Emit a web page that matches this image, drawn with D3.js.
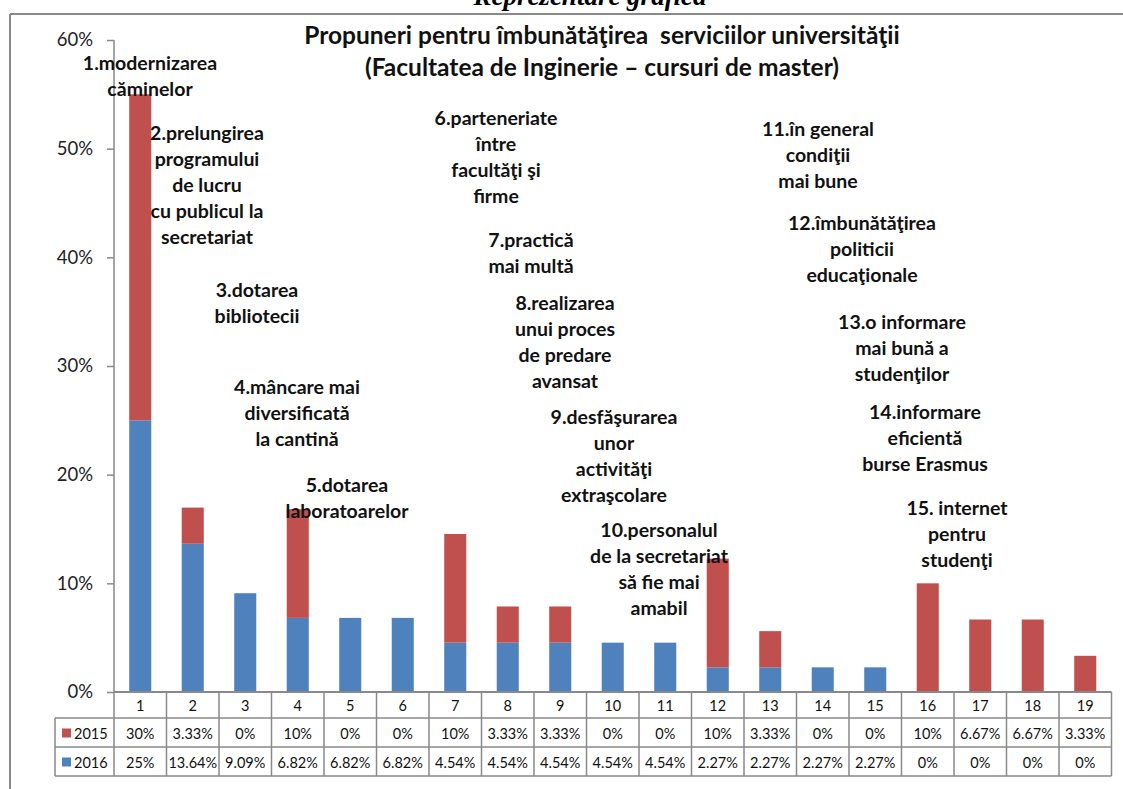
<!DOCTYPE html>
<html><head><meta charset="utf-8">
<script src="https://cdn.jsdelivr.net/npm/d3@7"></script>
<style>
body{margin:0;background:#fff;}
svg{display:block;}
</style></head>
<body>
<svg id="c" width="1123" height="789"></svg>
<script>
const categories = ["1","2","3","4","5","6","7","8","9","10","11","12","13","14","15","16","17","18","19"];
const values2015 = [30,3.33,0,10,0,0,10,3.33,3.33,0,0,10,3.33,0,0,10,6.67,6.67,3.33];
const values2016 = [25,13.64,9.09,6.82,6.82,6.82,4.54,4.54,4.54,4.54,4.54,2.27,2.27,2.27,2.27,0,0,0,0];
const labels2015 = ["30%","3.33%","0%","10%","0%","0%","10%","3.33%","3.33%","0%","0%","10%","3.33%","0%","0%","10%","6.67%","6.67%","3.33%"];
const labels2016 = ["25%","13.64%","9.09%","6.82%","6.82%","6.82%","4.54%","4.54%","4.54%","4.54%","4.54%","2.27%","2.27%","2.27%","2.27%","0%","0%","0%","0%"];
const seriesNames = ["2016","2015"];
const yTicks = [0,10,20,30,40,50,60];
const titleLines = ["Propuneri pentru îmbunătăţirea  serviciilor universităţii","(Facultatea de Inginerie – cursuri de master)"];
const pageHeading = "Reprezentare grafică";
const annotations = [
  ["1.modernizarea","căminelor"],
  ["2.prelungirea","programului","de lucru","cu publicul la","secretariat"],
  ["3.dotarea","bibliotecii"],
  ["4.mâncare mai","diversificată","la cantină"],
  ["5.dotarea","laboratoarelor"],
  ["6.parteneriate","între","facultăţi şi","firme"],
  ["7.practică","mai multă"],
  ["8.realizarea","unui proces","de predare","avansat"],
  ["9.desfăşurarea","unor","activităţi","extraşcolare"],
  ["10.personalul","de la secretariat","să fie mai","amabil"],
  ["11.în general","condiţii","mai bune"],
  ["12.îmbunătăţirea","politicii","educaţionale"],
  ["13.o informare","mai bună a","studenţilor"],
  ["14.informare","eficientă","burse Erasmus"],
  ["15. internet","pentru","studenţi"]
];
// annotation anchor positions (center x, first-line y)
const annotPos = [[150,63],[207,133],[257,290],[297,387],[347,485],[496,118],[531,240],[565,303],[614,417],[659,530],[818,129],[862,223],[902,322],[925,412],[957,508]];

const colors = {"2015":"#C0504D","2016":"#4F81BD"};
const FONT = "Lato, 'Open Sans', sans-serif";
const svg = d3.select("#c");
const gray = "#898989";

// borders
svg.append("line").attr("x1",10).attr("x2",10).attr("y1",14).attr("y2",789).attr("stroke",gray).attr("stroke-width",2);
svg.append("line").attr("x1",10).attr("x2",1123).attr("y1",14).attr("y2",14).attr("stroke",gray).attr("stroke-width",2);

// page heading (cut off at top, as in the source page)
svg.append("text").attr("x",590).attr("y",5).attr("text-anchor","middle")
  .attr("font-family","'Liberation Serif', 'DejaVu Serif', serif").attr("font-style","italic").attr("font-weight","bold")
  .attr("font-size",27).text(pageHeading);

const x0 = 114, x1 = 1111.5, yTop = 40, yBot = 692;
const x = d3.scaleBand().domain(categories).range([x0,x1]).padding(0);
const y = d3.scaleLinear().domain([0,60]).range([yBot,yTop]);

// stacked data
const rows = categories.map((c,i)=>({cat:c,"2016":values2016[i],"2015":values2015[i]}));
const stack = d3.stack().keys(seriesNames)(rows);
const bw = x.bandwidth()*0.42;
svg.append("g").selectAll("g").data(stack).join("g").attr("fill",d=>colors[d.key])
  .selectAll("rect").data(d=>d).join("rect")
  .attr("x",d=>x(d.data.cat)+(x.bandwidth()-bw)/2)
  .attr("width",bw)
  .attr("y",d=>y(d[1]))
  .attr("height",d=>y(d[0])-y(d[1]));

// y axis
const yAxis = svg.append("g").attr("transform",`translate(${x0},0)`)
  .call(d3.axisLeft(y).tickValues(yTicks).tickSize(7).tickPadding(14).tickFormat(d=>d+"%"));
yAxis.select(".domain").attr("stroke",gray).attr("stroke-width",1.5).attr("d",`M0,${yTop}V${yBot}`);
yAxis.selectAll(".tick line").attr("stroke",gray).attr("stroke-width",1.5);
yAxis.selectAll(".tick text").attr("font-family",FONT).attr("font-size",18.5).attr("fill","#222");

// title
svg.append("g").selectAll("text").data(titleLines).join("text")
  .attr("x",602).attr("y",(d,i)=>44+i*32).attr("text-anchor","middle")
  .attr("xml:space","preserve").style("white-space","pre")
  .attr("font-family",FONT).attr("font-weight","bold").attr("font-size",24.5).attr("fill","#111")
  .text(d=>d);

// annotations
const ag = svg.append("g").attr("font-family",FONT).attr("font-weight","bold").attr("font-size",19.5).attr("fill","#111").attr("text-anchor","middle");
annotations.forEach((lines,i)=>{
  const [cx,cy] = annotPos[i];
  ag.append("g").selectAll("text").data(lines).join("text")
    .attr("x",cx).attr("y",(d,j)=>cy+j*26).attr("dy","0.35em").text(d=>d);
});

// data table
const rH = [692,718,747,776];
const tg = svg.append("g");
const lc = gray;
tg.append("line").attr("x1",x0).attr("x2",x1).attr("y1",rH[0]).attr("y2",rH[0]).attr("stroke",lc).attr("stroke-width",2);
[rH[1],rH[2],rH[3]].forEach(yy=>tg.append("line").attr("x1",55).attr("x2",x1).attr("y1",yy).attr("y2",yy).attr("stroke",lc).attr("stroke-width",1.5));
categories.forEach(c=>{
  tg.append("line").attr("x1",x(c)).attr("x2",x(c)).attr("y1",rH[0]).attr("y2",rH[3]).attr("stroke",lc).attr("stroke-width",1.5);
});
tg.append("line").attr("x1",x1).attr("x2",x1).attr("y1",rH[0]).attr("y2",rH[3]).attr("stroke",lc).attr("stroke-width",1.5);
tg.append("line").attr("x1",55).attr("x2",55).attr("y1",rH[1]).attr("y2",rH[3]).attr("stroke",lc).attr("stroke-width",1.5);

const cellFont = 14.5;
tg.append("g").selectAll("text").data(categories).join("text")
  .attr("x",d=>x(d)+x.bandwidth()/2).attr("y",(rH[0]+rH[1])/2+1).attr("dy","0.35em")
  .attr("text-anchor","middle").attr("font-family",FONT).attr("font-size",cellFont).attr("fill","#111").text(d=>d);
const tableRows = [{name:"2015",labels:labels2015},{name:"2016",labels:labels2016}];
tableRows.forEach((r,ri)=>{
  const cy = (rH[ri+1]+rH[ri+2])/2+1;
  tg.append("g").selectAll("text").data(r.labels).join("text")
    .attr("x",(d,i)=>x(categories[i])+x.bandwidth()/2).attr("y",cy).attr("dy","0.35em")
    .attr("text-anchor","middle").attr("font-family",FONT).attr("font-size",cellFont).attr("fill","#111").text(d=>d);
  tg.append("rect").attr("x",62).attr("y",cy-5).attr("width",9).attr("height",9).attr("fill",colors[r.name]);
  tg.append("text").attr("x",74).attr("y",cy).attr("dy","0.35em").attr("font-family",FONT).attr("font-size",cellFont).attr("fill","#111").text(r.name);
});
</script>
</body></html>
